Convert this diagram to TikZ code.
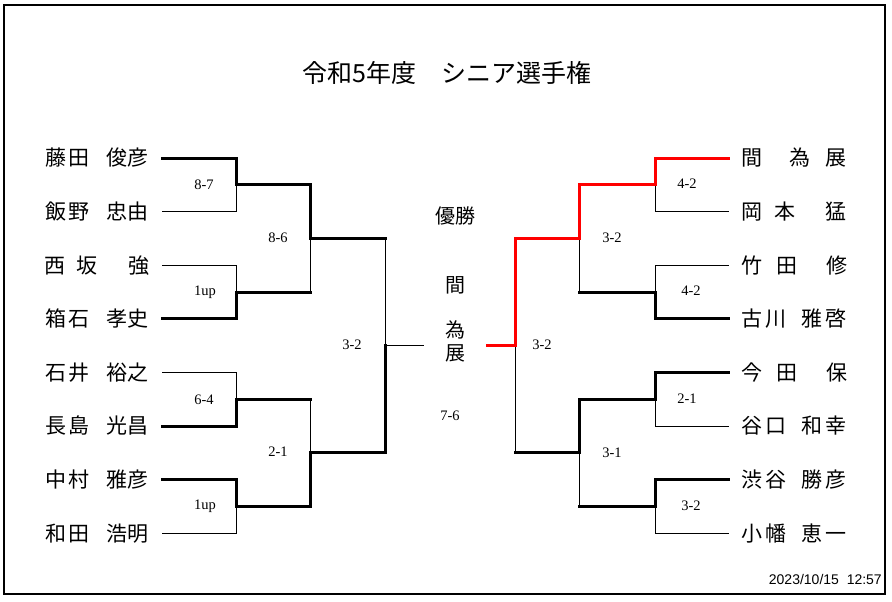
\documentclass[tikz,border=0pt]{standalone}
\usepackage{fontspec}
\setmainfont{Liberation Serif}
\newfontfamily\jp{Noto Sans CJK JP}
\newfontfamily\datefont{Liberation Sans}
\newcommand\jc[1]{\makebox[0pt][c]{#1}}
\tikzset{
  lose/.style={line width=1pt, line cap=rect},
  win/.style={line width=3pt, line cap=rect, line join=miter},
  champ/.style={win, draw=red},
  player/.style={inner sep=0pt, anchor=west, font=\jp\fontsize{21}{21}\selectfont},
  score/.style={inner sep=0pt, font=\fontsize{14.5}{15}\selectfont},
  center/.style={inner sep=0pt, font=\jp\fontsize{20}{23}\selectfont, align=center},
}
\begin{document}
\begin{tikzpicture}[x=1pt, y=-1pt]
\useasboundingbox (0,0) rectangle (892,602);
\fill[white] (0,0) rectangle (892,602);
\draw[line width=2pt] (4,5) rectangle (885,594);

\node[inner sep=0pt, font=\jp\fontsize{25}{25}\selectfont] (title) at (447,73) {令和5年度　シニア選手権};

% coordinates
\foreach \y [count=\i] in {158,211.6,265.2,318.8,372.4,426,479.6,533.2} {
  \coordinate (la\i) at (162,\y);
  \coordinate (lb\i) at (236,\y);
  \coordinate (ra\i) at (728,\y);
  \coordinate (rb\i) at (655,\y);
}
\foreach \y [count=\i] in {184.8,292,399.2,506.4} {
  \coordinate (lc\i) at (236,\y);
  \coordinate (ld\i) at (310,\y);
  \coordinate (rc\i) at (655,\y);
  \coordinate (rd\i) at (579,\y);
}
\foreach \y [count=\i] in {238.4,452.8} {
  \coordinate (le\i) at (310,\y);
  \coordinate (lf\i) at (385,\y);
  \coordinate (re\i) at (579,\y);
  \coordinate (rf\i) at (515,\y);
}
\coordinate (lg) at (385,345.6);
\coordinate (lh) at (423,345.6);
\coordinate (rg) at (515,345.6);
\coordinate (rh) at (487,345.6);

% left players
\node[player] (p1) at (56,158)   {\jc{藤}\hspace{23pt}\jc{田}\hspace{38pt}\jc{俊}\hspace{21pt}\jc{彦}};
\node[player] (p2) at (56,211.6) {\jc{飯}\hspace{23pt}\jc{野}\hspace{38pt}\jc{忠}\hspace{21pt}\jc{由}};
\node[player] (p3) at (55,265.2) {\jc{西}\hspace{32pt}\jc{坂}\hspace{52pt}\jc{強}};
\node[player] (p4) at (56,318.8) {\jc{箱}\hspace{23pt}\jc{石}\hspace{38pt}\jc{孝}\hspace{21pt}\jc{史}};
\node[player] (p5) at (56,372.4) {\jc{石}\hspace{23pt}\jc{井}\hspace{38pt}\jc{裕}\hspace{21pt}\jc{之}};
\node[player] (p6) at (56,426)   {\jc{長}\hspace{23pt}\jc{島}\hspace{38pt}\jc{光}\hspace{21pt}\jc{昌}};
\node[player] (p7) at (56,479.6) {\jc{中}\hspace{23pt}\jc{村}\hspace{38pt}\jc{雅}\hspace{21pt}\jc{彦}};
\node[player] (p8) at (56,533.2) {\jc{和}\hspace{23pt}\jc{田}\hspace{38pt}\jc{浩}\hspace{21pt}\jc{明}};

% right players
\node[player] (q1) at (752,158)   {\jc{間}\hspace{48pt}\jc{為}\hspace{36pt}\jc{展}};
\node[player] (q2) at (752,211.6) {\jc{岡}\hspace{33pt}\jc{本}\hspace{51pt}\jc{猛}};
\node[player] (q3) at (752,265.2) {\jc{竹}\hspace{35pt}\jc{田}\hspace{50pt}\jc{修}};
\node[player] (q4) at (752,318.8) {\jc{古}\hspace{24pt}\jc{川}\hspace{36pt}\jc{雅}\hspace{24pt}\jc{啓}};
\node[player] (q5) at (752,372.4) {\jc{今}\hspace{35pt}\jc{田}\hspace{50pt}\jc{保}};
\node[player] (q6) at (752,426)   {\jc{谷}\hspace{24pt}\jc{口}\hspace{36pt}\jc{和}\hspace{24pt}\jc{幸}};
\node[player] (q7) at (752,479.6) {\jc{渋}\hspace{24pt}\jc{谷}\hspace{36pt}\jc{勝}\hspace{24pt}\jc{彦}};
\node[player] (q8) at (752,533.2) {\jc{小}\hspace{24pt}\jc{幡}\hspace{36pt}\jc{恵}\hspace{24pt}\jc{一}};

% thin lines (losers)
\draw[lose] (la2) -- (lb2) -- (lc1);
\draw[lose] (la3) -- (lb3) -- (lc2);
\draw[lose] (ld2) -- (le1);
\draw[lose] (lf1) -- (lg) -- (lh);
\draw[lose] (la5) -- (lb5) -- (lc3);
\draw[lose] (ld3) -- (le2);
\draw[lose] (la8) -- (lb8) -- (lc4);

\draw[lose] (ra2) -- (rb2) -- (rc1);
\draw[lose] (ra3) -- (rb3) -- (rc2);
\draw[lose] (rd2) -- (re1);
\draw[lose] (rf2) -- (rg);
\draw[lose] (ra6) -- (rb6) -- (rc3);
\draw[lose] (rd4) -- (re2);
\draw[lose] (ra8) -- (rb8) -- (rc4);

% thick lines (winners)
\draw[win] (la1) -- (lb1) -- (lc1) -- (ld1) -- (le1) -- (lf1);
\draw[win] (la4) -- (lb4) -- (lc2) -- (ld2);
\draw[win] (la6) -- (lb6) -- (lc3) -- (ld3);
\draw[win] (la7) -- (lb7) -- (lc4) -- (ld4) -- (le2) -- (lf2) -- (lg);

\draw[win] (ra4) -- (rb4) -- (rc2) -- (rd2);
\draw[win] (ra5) -- (rb5) -- (rc3) -- (rd3) -- (re2) -- (rf2);
\draw[win] (ra7) -- (rb7) -- (rc4) -- (rd4);
\draw[champ] (ra1) -- (rb1) -- (rc1) -- (rd1) -- (re1) -- (rf1) -- (rg) -- (rh);

% scores
\node[score] (s1) at (204,185) {8-7};
\node[score] (s2) at (278,238) {8-6};
\node[score] (s3) at (205,292) {1up};
\node[score] (s4) at (352,345) {3-2};
\node[score] (s5) at (204,400) {6-4};
\node[score] (s6) at (278,452) {2-1};
\node[score] (s7) at (205,506) {1up};
\node[score] (s8) at (450,416) {7-6};
\node[score] (t1) at (687,184) {4-2};
\node[score] (t2) at (612,238) {3-2};
\node[score] (t3) at (691,291) {4-2};
\node[score] (t4) at (542,345) {3-2};
\node[score] (t5) at (687,399) {2-1};
\node[score] (t6) at (612,453) {3-1};
\node[score] (t7) at (691,506) {3-2};

% champion
\node[center] (yusho) at (455,216) {優勝};
\node[center] (w1) at (455,285) {間};
\node[center] (w2) at (455,341.5) {為\\展};

% date
\node[inner sep=0pt, anchor=east, font=\datefont\fontsize{14}{14}\selectfont] (date) at (882,579) {2023/10/15\ \ 12:57};
\end{tikzpicture}
\end{document}
